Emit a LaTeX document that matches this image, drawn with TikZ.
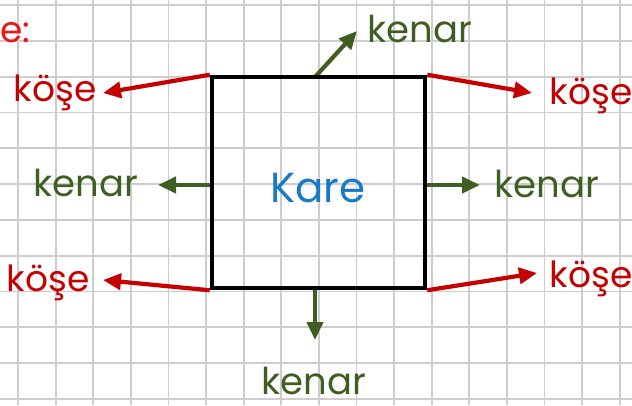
\documentclass[tikz,border=0pt]{standalone}
\usepackage{fontspec}
\setmainfont{Poppins}
\usetikzlibrary{arrows.meta}
\definecolor{kred}{RGB}{196,0,0}
\definecolor{kgreen}{RGB}{62,94,34}
\definecolor{kblue}{RGB}{24,122,200}
\definecolor{ered}{RGB}{240,20,20}
\definecolor{gridc}{RGB}{205,205,205}
\tikzset{
  redarr/.style={draw=kred, line width=4.2pt, -{Triangle[length=18pt,width=16pt]}},
  grnarr/.style={draw=kgreen, line width=4.2pt, -{Triangle[length=18pt,width=16pt]}},
  kose/.style={text=kred, font=\fontsize{36}{40}\selectfont, inner sep=0pt, anchor=base},
  kenar/.style={text=kgreen, font=\fontsize{37}{40}\selectfont, inner sep=0pt, anchor=base},
  gridline/.style={draw=gridc, line width=1.8pt},
  square/.style={draw=black, line width=4.5pt, minimum width=213pt, minimum height=211pt, inner sep=0pt},
}
\begin{document}
\begin{tikzpicture}[x=1pt,y=-1pt]
\useasboundingbox (0,0) rectangle (632,405);
\fill[white] (0,0) rectangle (632,405);
% grid
\foreach \k in {0,...,16} { \draw[gridline] ({18+37.6*\k},0) -- ({18+37.6*\k},405); }
\foreach \k in {0,...,11} { \draw[gridline] (0,{5+35.8*\k}) -- (632,{5+35.8*\k}); }
% square
\node[square] (sq) at (318.5,182.5) {};
% texts
\node[anchor=base west, text=ered, font=\fontsize{36}{40}\selectfont, inner sep=0pt] (e) at (0,42) {e:};
\node[kose] (k1) at (55,101) {köşe};
\node[kose] (k2) at (591,104) {köşe};
\node[kose] (k3) at (48,291) {köşe};
\node[kose] (k4) at (591,287) {köşe};
\node[kenar] (n1) at (420,42) {kenar};
\node[kenar] (n2) at (86,196) {kenar};
\node[kenar] (n3) at (547,197) {kenar};
\node[kenar] (n4) at (314,394) {kenar};
\node[anchor=base, text=kblue, font=\fontsize{42}{46}\selectfont, inner sep=0pt] (kare) at (318,202) {Kare};
% tip coordinates
\coordinate (t1) at (103,93);
\coordinate (t2) at (532,93);
\coordinate (t3) at (103,280);
\coordinate (t4) at (537,273);
\coordinate (g1) at (357,31);
\coordinate (g2) at (158,185);
\coordinate (g3) at (480,185);
\coordinate (g4) at (315,340);
\coordinate (s1) at (315,77);
\coordinate (s2) at (212,185);
\coordinate (s3) at (425,185);
\coordinate (s4) at (315,288);
% arrows
\draw[redarr] (sq.north west) -- (t1);
\draw[redarr] (sq.north east) -- (t2);
\draw[redarr] (sq.south west) -- (t3);
\draw[redarr] (sq.south east) -- (t4);
\draw[grnarr] (s1) -- (g1);
\draw[grnarr] (s2) -- (g2);
\draw[grnarr] (s3) -- (g3);
\draw[grnarr] (s4) -- (g4);
\node[square] at (sq.center) {};
\end{tikzpicture}
\end{document}
